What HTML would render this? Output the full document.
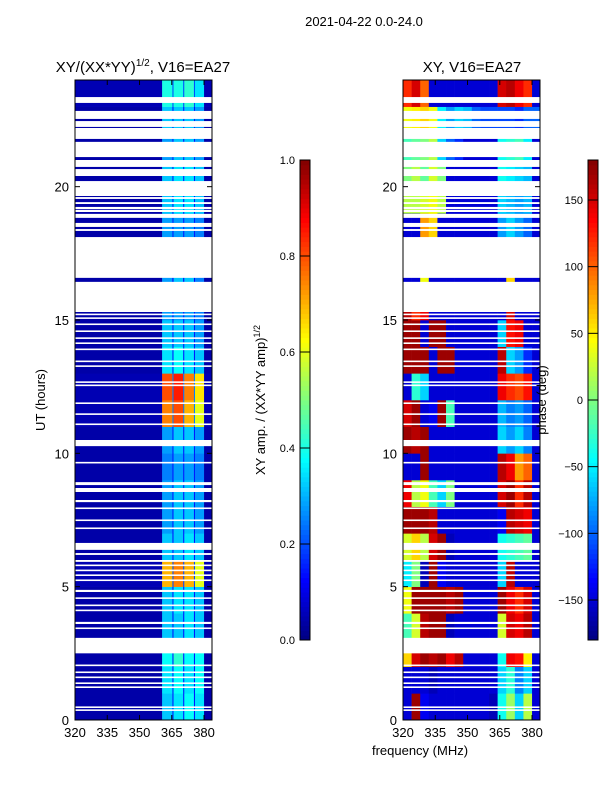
<!DOCTYPE html>
<html><head><meta charset="utf-8"><style>
body{margin:0;background:#fff;}
svg text{font-family:"Liberation Sans","DejaVu Sans",sans-serif;fill:#000;}
</style></head><body>
<svg id="fig" width="600" height="800" viewBox="0 0 600 800" xmlns="http://www.w3.org/2000/svg">
<text x="364" y="26" font-size="13" text-anchor="middle">2021-04-22 0.0-24.0</text>
<text x="143" y="72" font-size="15" text-anchor="middle">XY/(XX*YY)<tspan font-size="10" dy="-6">1/2</tspan><tspan dy="6">, V16=EA27</tspan></text>
<text x="472" y="72" font-size="15" text-anchor="middle">XY, V16=EA27</text>
<g id="left"></g>
<g id="right"></g>
<g id="cb1"></g>
<g id="cb2"></g>
<text transform="translate(45,400) rotate(-90)" font-size="13" text-anchor="middle">UT (hours)</text>
<text x="420" y="755" font-size="13" text-anchor="middle">frequency (MHz)</text>
<text transform="translate(265,400) rotate(-90)" font-size="13" text-anchor="middle">XY amp. / (XX*YY amp)<tspan font-size="9" dy="-5">1/2</tspan></text>
<text transform="translate(546,400) rotate(-90)" font-size="13" text-anchor="middle">phase (deg)</text>
</svg>
<script>
// ---- data ----
const ampFreqEdges=[320,360.5,365.3,365.8,370.3,370.8,375.3,375.8,380,384];
const ampValues=[
[0.04,0.32,0.15,0.35,0.15,0.38,0.15,0.35,0.04],
[0.04,0.35,0.15,0.38,0.15,0.35,0.15,0.38,0.04],
[0.04,0.38,0.15,0.42,0.15,0.38,0.15,0.38,0.04],
[0.04,0.32,0.15,0.32,0.15,0.35,0.15,0.32,0.04],
[0.04,0.32,0.15,0.35,0.15,0.35,0.15,0.32,0.04],
[0.05,0.7,0.2,0.75,0.2,0.7,0.2,0.6,0.05],
[0.04,0.32,0.15,0.32,0.15,0.35,0.15,0.32,0.04],
[0.04,0.28,0.15,0.32,0.15,0.32,0.15,0.28,0.04],
[0.04,0.28,0.15,0.32,0.15,0.32,0.15,0.28,0.04],
[0.04,0.25,0.15,0.28,0.15,0.28,0.15,0.25,0.04],
[0.04,0.28,0.15,0.32,0.15,0.32,0.15,0.28,0.04],
[0.05,0.75,0.25,0.8,0.25,0.7,0.25,0.6,0.05],
[0.05,0.8,0.25,0.85,0.25,0.75,0.25,0.65,0.05],
[0.04,0.35,0.15,0.38,0.15,0.35,0.15,0.32,0.04],
[0.04,0.32,0.15,0.32,0.15,0.32,0.15,0.28,0.04],
[0.04,0.28,0.15,0.28,0.15,0.28,0.15,0.25,0.04],
[0.04,0.28,0.12,0.32,0.12,0.32,0.12,0.25,0.04],
[0.04,0.25,0.12,0.25,0.12,0.25,0.12,0.25,0.04],
[0.04,0.28,0.15,0.28,0.15,0.28,0.15,0.25,0.04],
[0.04,0.32,0.15,0.35,0.15,0.35,0.15,0.32,0.04],
[0.04,0.32,0.15,0.35,0.15,0.35,0.15,0.32,0.04],
[0.04,0.28,0.15,0.32,0.15,0.32,0.15,0.28,0.04],
[0.04,0.32,0.15,0.32,0.15,0.32,0.15,0.28,0.04],
[0.05,0.4,0.2,0.4,0.2,0.42,0.2,0.35,0.05]];
const phaseFreqEdges=[320,324,328,332,336,340,344,348,352,356,360,364,368,372,376,380,384];
const phaseValues=[
[-150,170,-140,-150,-150,-150,-150,-150,-150,-150,-160,-40,10,-60,20,-150],
[-150,-150,-150,-160,-150,-150,-150,-150,-150,-150,-150,-60,-30,-90,-60,-150],
[60,150,170,160,170,140,160,-150,-150,-150,-150,-40,140,130,50,-150],
[-20,30,160,170,170,-160,-150,-150,-150,-150,-150,30,150,140,160,-150],
[40,170,170,170,170,160,170,-150,-150,-150,-150,170,140,120,150,-150],
[-50,0,-160,170,-140,-150,-150,-150,-150,-150,-150,-60,160,-150,-150,-150],
[30,60,20,150,170,-160,-150,-150,-150,-150,-150,-40,-30,-20,-10,-150],
[170,170,170,160,-150,-150,-150,-150,-150,-150,-150,-140,160,150,140,-150],
[140,20,40,-20,-60,0,-150,-150,-150,-150,-150,150,170,120,160,-150],
[-150,-150,170,-150,-150,-150,-150,-150,-150,-150,-150,160,140,80,100,-150],
[170,160,170,-150,-150,-150,-150,-150,-150,-150,-150,-60,-80,-60,-90,-150],
[150,170,-150,-140,170,-20,-150,-150,-150,-150,-150,-70,-90,-80,-100,-150],
[-150,-30,-60,-150,-150,-150,-150,-150,-150,-150,-150,140,120,110,130,-150],
[170,170,170,-150,170,170,-150,-150,-150,-150,-150,160,-60,-80,-120,-150],
[170,170,-150,170,170,-150,-150,-150,-150,-150,-150,-60,130,140,-150,-150],
[160,120,140,-150,-150,-150,-150,-150,-150,-150,-150,-150,150,-150,-150,-150],
[-150,-150,40,-150,-150,-150,-150,-150,-150,-150,-150,-150,60,-150,-150,-150],
[-150,-150,-150,-150,-150,-150,-150,-150,-150,-150,-150,-150,-150,-150,-150,-150],
[-150,-150,80,60,-150,-150,-150,-150,-150,-150,-150,-80,-60,-80,-100,-150],
[20,20,30,40,20,-150,-150,-150,-150,-150,-150,-60,-70,-80,-70,-150],
[0,20,-10,30,0,-150,-150,-150,-150,-150,-150,-40,-50,-60,-70,-150],
[-20,-10,0,20,-60,-100,-120,-150,-150,-150,-150,-40,-30,-20,-50,-150],
[40,50,60,40,-50,-80,-60,-70,-100,-110,-110,-110,-110,-120,-100,-100],
[120,150,100,-150,-150,-150,-150,-150,-150,-150,-150,150,160,140,120,-150]];
const flaggedStart=[23.14,22.54,22.24,21.79,21.11,20.74,20.4,19.65,19.54,19.35,19.16,19.05,18.83,18.49,18.34,16.58,15.3,15.18,15.04,14.81,14.55,14.29,14.1,13.87,13.42,13.24,12.64,12.52,11.85,11.44,11.06,10.27,9.62,8.81,8.55,8.17,7.91,7.46,7.16,6.38,6.19,5.93,5.77,5.58,5.4,5.21,4.8,4.54,4.27,4.08,3.6,3.41,2.5,2.02,1.76,1.57,1.35,1.2,0.45,0.34];
const flaggedEnd=[23.36,22.84,22.46,22.2,21.68,21.0,20.66,20.21,19.61,19.42,19.24,19.13,18.98,18.64,18.41,18.11,16.43,15.24,15.1,14.87,14.61,14.35,14.16,13.93,13.48,13.3,12.7,12.58,11.91,11.5,11.12,10.5,9.68,8.92,8.7,8.25,7.97,7.52,7.22,6.64,6.26,6.0,5.83,5.64,5.46,5.27,4.88,4.6,4.33,4.14,3.68,3.47,3.08,2.08,1.82,1.63,1.41,1.26,0.51,0.4];
const yTicks=[0,5,10,15,20];
const xTicks=[320,335,350,365,380];
const ampTicks=[0.0,0.2,0.4,0.6,0.8,1.0];
const phaseTicks=[-150,-100,-50,0,50,100,150];
// ---- helpers ----
const NS="http://www.w3.org/2000/svg";
function mk(tag,attrs,parent){const e=document.createElementNS(NS,tag);for(const k in attrs)e.setAttribute(k,attrs[k]);parent.appendChild(e);return e;}
function cl(v){return Math.max(0,Math.min(1,v));}
function jet(x){const r=cl(Math.min(4*x-1.5,-4*x+4.5)),g=cl(Math.min(4*x-0.5,-4*x+3.5)),b=cl(Math.min(4*x+0.5,-4*x+2.5));return `rgb(${Math.round(r*255)},${Math.round(g*255)},${Math.round(b*255)})`;}
const Y0=720,Y1=80,HMAX=24;
function yScale(h){return Y0-(h/HMAX)*(Y0-Y1);}
function xScaleFor(x0){return f=>x0+(f-320)*(137/63.7);}
function panel(gid,x0,edges,vals,norm,name){
  const g=document.getElementById(gid),xs=xScaleFor(x0),xe=x0+137;
  vals.forEach((row,i)=>{row.forEach((v,j)=>{
    const xa=xs(edges[j]),xb=Math.min(xs(edges[j+1]),xe);
    const r=mk('rect',{x:xa,y:yScale(i+1),width:xb-xa+0.3,height:yScale(i)-yScale(i+1)+0.3,fill:jet(norm(v))},g);
    
    
  });});
  flaggedStart.forEach((s,k)=>{
    const r=mk('rect',{x:x0,y:yScale(flaggedEnd[k]),width:137,height:yScale(s)-yScale(flaggedEnd[k]),fill:'#fff'},g);
    
    
  });
  const fr=mk('rect',{x:x0,y:Y1,width:137,height:Y0-Y1,fill:'none',stroke:'#000','stroke-width':1},g);
  
  
  yTicks.forEach(t=>{
    const y=yScale(t);
    mk('line',{x1:x0,x2:x0+5,y1:y,y2:y,stroke:'#000'},g);
    mk('line',{x1:x0+137,x2:x0+132,y1:y,y2:y,stroke:'#000'},g);
    const tx=mk('text',{x:x0-6,y:y+5,'font-size':13,'text-anchor':'end'},g);tx.textContent=t;
    
    
  });
  xTicks.forEach(t=>{
    const x=xs(t);
    mk('line',{x1:x,x2:x,y1:Y0,y2:Y0-5,stroke:'#000'},g);
    mk('line',{x1:x,x2:x,y1:Y1,y2:Y1+5,stroke:'#000'},g);
    const tx=mk('text',{x:x,y:Y0+17,'font-size':13,'text-anchor':'middle'},g);tx.textContent=t;
    
    
  });
}
panel('left',75,ampFreqEdges,ampValues,v=>v,'amp');
panel('right',403,phaseFreqEdges,phaseValues,v=>(v+180)/360,'phase');
function colorbar(gid,x0,lo,hi,ticks,fmt){
  const g=document.getElementById(gid),top=160,bot=640,n=100;
  for(let i=0;i<n;i++){
    const r=mk('rect',{x:x0,y:bot-(i+1)*(bot-top)/n,width:10,height:(bot-top)/n+0.5,fill:jet((i+0.5)/n)},g);
    
    
  }
  mk('rect',{x:x0,y:top,width:10,height:bot-top,fill:'none',stroke:'#000'},g);
  ticks.forEach(t=>{
    const y=bot-(t-lo)/(hi-lo)*(bot-top);
    mk('line',{x1:x0,x2:x0+10,y1:y,y2:y,stroke:'#000'},g);
    const tx=mk('text',{x:x0-5,y:y+4,'font-size':11,'text-anchor':'end'},g);tx.textContent=fmt(t);
    
    
  });
}
colorbar('cb1',300,0,1,ampTicks,t=>t.toFixed(1));
colorbar('cb2',588,-180,180,phaseTicks,t=>t<0?'\u2212'+(-t):''+t);
</script>
</body></html>
